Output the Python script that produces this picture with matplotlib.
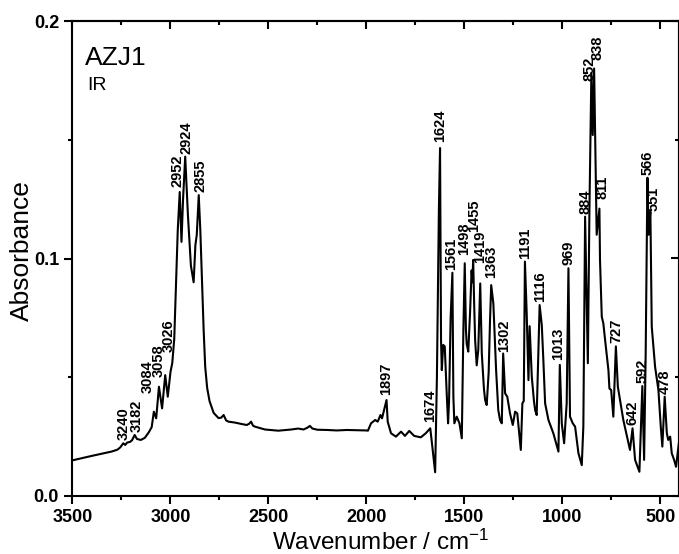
import numpy as np
import matplotlib
matplotlib.use("Agg")
import matplotlib.pyplot as plt
from matplotlib.ticker import MultipleLocator

plt.rcParams['font.family'] = ['Liberation Sans', 'DejaVu Sans']
plt.rcParams['mathtext.default'] = 'regular'

# ---- data ----
wavenumber = [3500, 3400, 3300, 3270, 3255, 3240, 3230, 3220, 3205, 3195, 3182, 3170, 3150, 3130,
              3110, 3095, 3084, 3072, 3058, 3042, 3026, 3013, 2999, 2990, 2980, 2970, 2962, 2952,
              2943, 2935, 2924, 2910, 2895, 2881, 2872, 2865, 2855, 2847, 2838, 2830, 2822, 2812,
              2800, 2779, 2754, 2740, 2728, 2715, 2703, 2669, 2636, 2610, 2598, 2588, 2578, 2568,
              2517, 2449, 2383, 2348, 2320, 2300, 2288, 2275, 2250, 2200, 2150, 2100, 2050, 2000,
              1992, 1976, 1955, 1942, 1928, 1920, 1910, 1897, 1891, 1874, 1849, 1823, 1803, 1781,
              1756, 1722, 1697, 1674, 1665, 1649, 1640, 1630, 1624, 1619, 1615, 1608, 1600, 1590,
              1583, 1578, 1570, 1561, 1556, 1551, 1539, 1525, 1513, 1505, 1498, 1492, 1488, 1480,
              1471, 1463, 1459, 1455, 1450, 1445, 1437, 1429, 1419, 1411, 1400, 1394, 1386, 1376,
              1369, 1363, 1352, 1338, 1327, 1318, 1309, 1302, 1292, 1281, 1267, 1253, 1241, 1230,
              1212, 1204, 1197, 1191, 1182, 1173, 1167, 1156, 1145, 1139, 1131, 1116, 1105, 1097,
              1088, 1071, 1046, 1020, 1013, 1003, 991, 978, 969, 961, 947, 935, 918, 901, 893,
              884, 870, 862, 852, 845, 838, 825, 811, 808, 799, 791, 782, 765, 760, 751, 740,
              727, 717, 706, 689, 663, 655, 642, 629, 607, 592, 583, 575, 566, 560, 551, 544,
              527, 510, 498, 490, 478, 467, 460, 450, 442, 430, 420, 408, 400]
absorbance = [0.0150, 0.0169, 0.0187, 0.0195, 0.0205, 0.0222, 0.0215, 0.0225, 0.0228, 0.0235, 0.0257,
              0.0240, 0.0236, 0.0245, 0.0268, 0.0290, 0.0355, 0.0327, 0.0460, 0.0369, 0.0509, 0.0418,
              0.0523, 0.056, 0.066, 0.092, 0.112, 0.128, 0.107, 0.125, 0.1429, 0.118, 0.097, 0.090,
              0.1057, 0.110, 0.1267, 0.112, 0.0900, 0.0700, 0.0544, 0.0455, 0.0400, 0.0350, 0.0328,
              0.0330, 0.0341, 0.0318, 0.0313, 0.0309, 0.0303, 0.0299, 0.0304, 0.0313, 0.0296, 0.0292,
              0.0280, 0.0275, 0.0280, 0.0284, 0.0280, 0.0288, 0.0295, 0.0284, 0.0279, 0.0278, 0.0276,
              0.0278, 0.0277, 0.0276, 0.0275, 0.0306, 0.0320, 0.0313, 0.0341, 0.0327, 0.036, 0.0404,
              0.0313, 0.0264, 0.0250, 0.0271, 0.0253, 0.0274, 0.0253, 0.0247, 0.0264, 0.0285, 0.022,
              0.0100, 0.050, 0.120, 0.1465, 0.0657, 0.0530, 0.0636, 0.0630, 0.0432, 0.0306, 0.040,
              0.075, 0.094, 0.0418, 0.0306, 0.0334, 0.0306, 0.0243, 0.0699, 0.098, 0.070, 0.064,
              0.0608, 0.077, 0.095, 0.090, 0.0994, 0.081, 0.0657, 0.055, 0.0615, 0.0895, 0.060,
              0.0450, 0.0404, 0.0383, 0.0520, 0.074, 0.0888, 0.081, 0.053, 0.0362, 0.032, 0.0306,
              0.060, 0.0432, 0.0418, 0.0348, 0.0299, 0.0355, 0.0348, 0.0194, 0.039, 0.040, 0.0987,
              0.077, 0.0488, 0.0715, 0.0502, 0.0400, 0.0362, 0.0341, 0.0804, 0.072, 0.0573, 0.039,
              0.032, 0.0264, 0.0187, 0.0552, 0.0306, 0.0222, 0.039, 0.0959, 0.0334, 0.0306, 0.0292,
              0.018, 0.013, 0.0292, 0.1176, 0.0559, 0.120, 0.178, 0.152, 0.180, 0.110, 0.121,
              0.0994, 0.0755, 0.0727, 0.0657, 0.053, 0.0453, 0.0446, 0.0334, 0.063, 0.046, 0.0404,
              0.032, 0.0222, 0.0194, 0.0285, 0.0152, 0.0102, 0.0463, 0.0152, 0.06, 0.134, 0.110,
              0.1197, 0.0713, 0.0544, 0.0446, 0.0292, 0.0208, 0.0418, 0.0264, 0.0236, 0.0250,
              0.018, 0.0152, 0.0123, 0.0208, 0.026]
peak_labels = [3240, 3182, 3084, 3058, 3026, 2952, 2924, 2855, 1897, 1674, 1624, 1561, 1498,
               1455, 1419, 1363, 1302, 1191, 1116, 1013, 969, 884, 852, 838, 811, 727, 642,
               592, 566, 551, 478]
x_ticks = [3500, 3000, 2500, 2000, 1500, 1000, 500]
y_ticks = [0.0, 0.1, 0.2]
sample_name = "AZJ1"
method_name = "IR"

# label offsets in pixels (dx, gap above peak)
label_offsets = {3084: (-6, 18.7), 3058: (0, 9.7), 3026: (3, 23), 2952: (-2.7, 5),
                 2924: (1.5, 2.7), 2855: (2, 3.3), 3182: (2, 3), 1674: (0, 6.3), 1624: (0, 6),
                 1561: (-1.5, 3), 1498: (-0.5, 8), 1455: (0.5, 28), 1419: (0, 20),
                 1363: (0, 7), 1302: (1.4, 1.5),
                 1013: (-1.3, 5), 852: (-2.3, -8), 838: (3.5, 8), 811: (2.7, 10),
                 551: (3.7, 0.5), 1897: (0, 5)}

fig = plt.figure(figsize=(6.79, 5.54), dpi=100)
ax = fig.add_axes([72.3 / 679, 58 / 554, (679 - 72.3) / 679, 475 / 554])

wn = np.array(wavenumber, dtype=float)
ab = np.array(absorbance, dtype=float)
ax.plot(wn, ab, color='black', lw=1.5, solid_joinstyle='round')

ax.set_xlim(3500, 405)
ax.set_ylim(0.0, 0.2)

px2pt = 72 / 100
for p in peak_labels:
    idx = int(np.argmin(np.abs(wn - p)))
    yv = ab[idx]
    dx, dy = label_offsets.get(p, (0, 3))
    ax.annotate(str(p), xy=(p, yv), xytext=(dx * px2pt, dy * px2pt),
                textcoords='offset points', rotation=90, ha='center', va='bottom',
                fontsize=10.5, fontweight='bold')

ax.set_xticks(x_ticks)
ax.set_xticklabels([str(t) for t in x_ticks])
ax.set_yticks(y_ticks)
ax.set_yticklabels([f"{t:.1f}" for t in y_ticks])
ax.xaxis.set_minor_locator(MultipleLocator(250))
ax.yaxis.set_minor_locator(MultipleLocator(0.05))

ax.tick_params(axis='both', which='major', length=6, width=1.5, labelsize=13, direction='out')
ax.tick_params(axis='both', which='minor', length=3, width=1.5, direction='out')
for lbl in ax.get_xticklabels() + ax.get_yticklabels():
    lbl.set_fontweight('bold')

# mirrored ticks on top and right, pointing inward
axt = ax.secondary_xaxis('top')
axt.set_xticks(x_ticks)
axt.xaxis.set_minor_locator(MultipleLocator(250))
axt.tick_params(which='major', direction='in', length=6, width=1.5, labeltop=False)
axt.tick_params(which='minor', direction='in', length=3, width=1.5)
axt.spines['top'].set_linewidth(1.5)

axr = ax.secondary_yaxis('right')
axr.set_yticks(y_ticks)
axr.yaxis.set_minor_locator(MultipleLocator(0.05))
axr.tick_params(which='major', direction='in', length=6, width=1.5, labelright=False)
axr.tick_params(which='minor', direction='in', length=3, width=1.5)
axr.spines['right'].set_linewidth(1.5)

for s in ax.spines.values():
    s.set_linewidth(1.5)

ax.text(0.021, 0.907, sample_name, transform=ax.transAxes, fontsize=19, va='baseline', ha='left')
ax.text(0.025, 0.855, method_name, transform=ax.transAxes, fontsize=14, va='baseline', ha='left')

fig.text(22 / 679, 1 - 251 / 554, "Absorbance", rotation=90, fontsize=19, ha='center', va='center')
fig.text(381 / 679, 4.5 / 554, "Wavenumber / cm$^{-1}$", fontsize=17.5, ha='center', va='baseline')

fig.savefig("out.png", dpi=100)
